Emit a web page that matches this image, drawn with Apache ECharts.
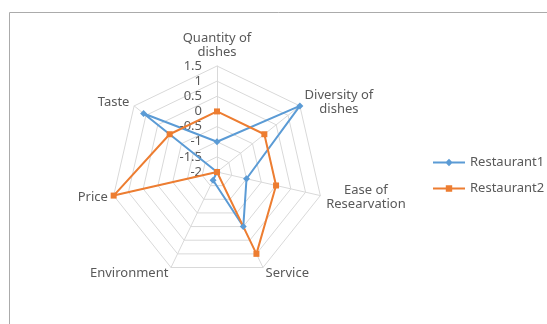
<!DOCTYPE html>
<html>
<head>
<meta charset="utf-8">
<script src="https://cdn.jsdelivr.net/npm/echarts@6/dist/echarts.min.js"></script>
<style>
  html, body { margin: 0; padding: 0; background: #fff; }
  #radar { width: 547px; height: 324px; }
</style>
</head>
<body>
<div id="radar"></div>
<script>
  // categories in Excel order (clockwise from top)
  var categories = ['Quantity of\ndishes', 'Diversity of\ndishes', 'Ease of\nResearvation', 'Service', 'Environment', 'Price', 'Taste'];
  var restaurant1 = [-1, 1.5, -1, 0, -1.7, -2, 1.1];
  var restaurant2 = [0, 0, 0, 1, -2, 1.5, 0];
  var seriesNames = ['Restaurant1', 'Restaurant2'];
  var axisMin = -2, axisMax = 1.5, axisStep = 0.5;

  var textColor = '#595959';
  var gridColor = '#D9D9D9';
  var font = 'Noto Sans';

  // echarts radar runs counter-clockwise, so keep first item and reverse the rest
  function toCcw(arr) {
    return [arr[0]].concat(arr.slice(1).reverse());
  }

  var indicator = toCcw(categories).map(function (name, i) {
    var ind = {name: name, min: axisMin, max: axisMax};
    if (i === 0) {
      ind.axisLabel = {show: true};
    }
    return ind;
  });

  var lineIcon = 'path://M0,4 L30,4 L30,6 L0,6 Z M15,1.5 L18.5,5 L15,8.5 L11.5,5 Z';
  var lineIcon2 = 'path://M0,4 L30,4 L30,6 L0,6 Z M12,2 L18,2 L18,8 L12,8 Z';

  var myChart = echarts.init(document.getElementById('radar'));
  var option = {
    animation: false,
    color: ['#5B9BD5', '#ED7D31'],
    graphic: [{
      type: 'rect',
      shape: {x: 9.5, y: 12.5, width: 600, height: 400},
      style: {fill: 'none', stroke: '#ABABAB', lineWidth: 1},
      silent: true
    }],
    legend: {
      orient: 'vertical',
      left: 428,
      top: 151,
      itemWidth: 32,
      itemHeight: 10,
      itemGap: 13,
      textStyle: {color: textColor, fontSize: 13, fontFamily: font},
      data: [
        {name: seriesNames[0], icon: lineIcon},
        {name: seriesNames[1], icon: lineIcon2}
      ]
    },
    radar: {
      center: [217, 172],
      radius: 106,
      startAngle: 90,
      shape: 'polygon',
      splitNumber: (axisMax - axisMin) / axisStep,
      indicator: indicator,
      axisName: {
        color: textColor, fontSize: 13, fontFamily: font, lineHeight: 14,
        formatter: function (name) {
          return name.split('\n').map(function (s) { return '{c|' + s + '}'; }).join('\n');
        },
        rich: {c: {align: 'center', color: textColor, fontSize: 13, fontFamily: font, lineHeight: 14}}
      },
      nameGap: 6,
      axisLine: {lineStyle: {color: gridColor, width: 1}},
      splitLine: {lineStyle: {color: gridColor, width: 1}},
      splitArea: {show: false},
      axisTick: {show: false},
      axisLabel: {show: false, color: textColor, fontSize: 13, fontFamily: font, margin: 15}
    },
    series: [{
      type: 'radar',
      data: [
        {name: seriesNames[0], value: toCcw(restaurant1), symbol: 'diamond', symbolSize: 7,
          lineStyle: {width: 2}, itemStyle: {color: '#5B9BD5'}},
        {name: seriesNames[1], value: toCcw(restaurant2), symbol: 'rect', symbolSize: 6,
          lineStyle: {width: 2}, itemStyle: {color: '#ED7D31'}}
      ]
    }]
  };
  myChart.setOption(option);
</script>
</body>
</html>
